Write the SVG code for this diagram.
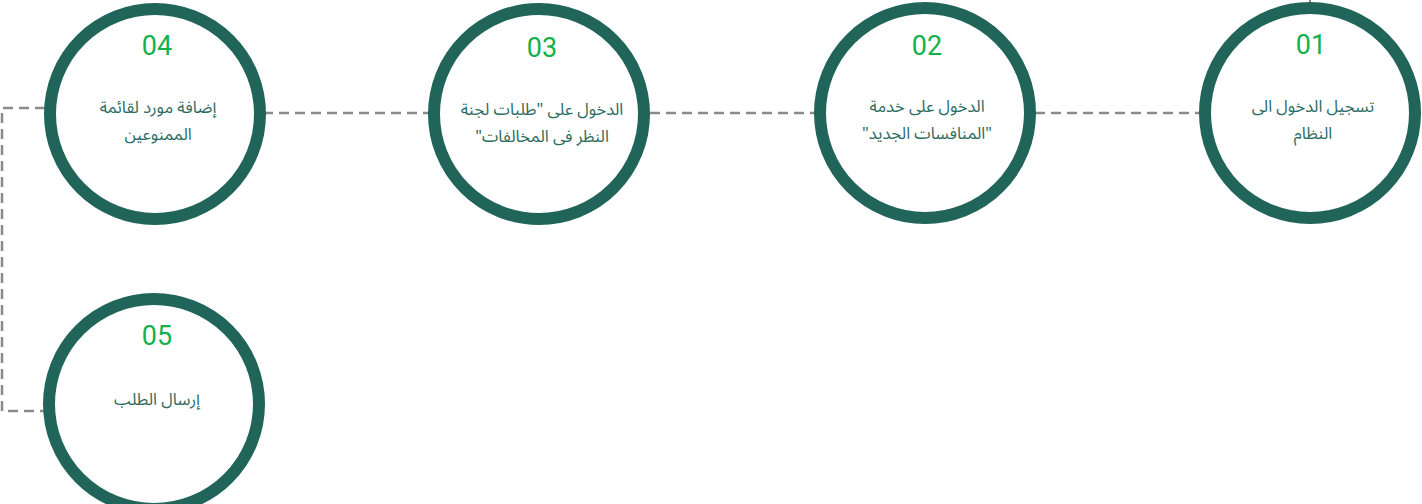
<svg xmlns="http://www.w3.org/2000/svg" width="1422" height="504" viewBox="0 0 1422 504">
<style>
.ring{fill:#fff;stroke:#21645a;stroke-width:12}
.num{font-family:Roboto,"DejaVu Sans",sans-serif;font-size:27px;fill:#12b14c;text-anchor:middle}
.lbl{font-family:"Noto Sans Arabic","DejaVu Sans",sans-serif;font-size:16.5px;fill:#2b6b61;text-anchor:middle;direction:rtl}
.dash{fill:none;stroke:#8a8a8a;stroke-width:2.5;stroke-dasharray:10 6}
</style>
<rect width="1422" height="504" fill="#fff"/>
<g id="connectors">
<line class="dash" x1="1205" y1="113" x2="1030" y2="113"/>
<line class="dash" x1="820" y1="113" x2="645" y2="113"/>
<line class="dash" x1="433" y1="113" x2="260" y2="113"/>
<path class="dash" d="M45 108 H2 V411 H45"/>
<line x1="1310" y1="0" x2="1310" y2="6" stroke="#8a8a8a" stroke-width="2"/>
</g>
<g id="n01">
<circle class="ring" cx="1310" cy="113" r="105"/>
<text class="num" x="1311" y="54">01</text>
<text class="lbl" x="1313" y="112">تسجيل الدخول الى</text>
<text class="lbl" x="1313" y="139">النظام</text>
</g>
<g id="n02">
<circle class="ring" cx="925" cy="113" r="105"/>
<text class="num" x="927" y="55">02</text>
<text class="lbl" x="927" y="112">الدخول على خدمة</text>
<text class="lbl" x="927" y="139">"المنافسات الجديد"</text>
</g>
<g id="n03">
<circle class="ring" cx="539" cy="114" r="105"/>
<text class="num" x="542" y="57">03</text>
<text class="lbl" x="542" y="115">الدخول على "طلبات لجنة</text>
<text class="lbl" x="542" y="142">النظر فى المخالفات"</text>
</g>
<g id="n04">
<circle class="ring" cx="155" cy="114" r="105"/>
<text class="num" x="157" y="55">04</text>
<text class="lbl" x="158" y="113">إضافة مورد لقائمة</text>
<text class="lbl" x="158" y="140">الممنوعين</text>
</g>
<g id="n05">
<circle class="ring" cx="154" cy="404" r="105"/>
<text class="num" x="157" y="345">05</text>
<text class="lbl" x="157" y="405">إرسال الطلب</text>
</g>
</svg>
